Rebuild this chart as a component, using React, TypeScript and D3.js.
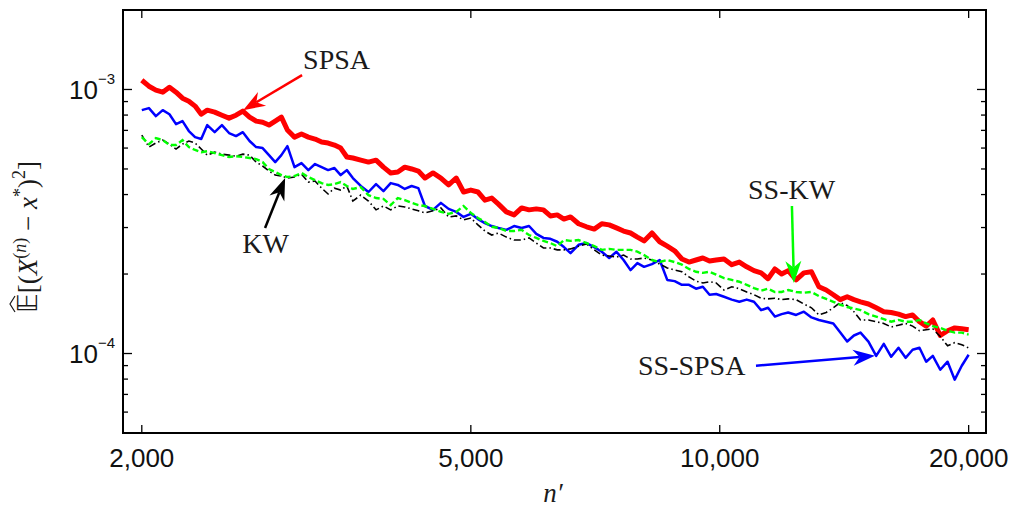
import React from 'react'
import * as d3 from 'd3'

// values are stored in units of 1e-4
const UNIT = 1e-4

const nValues = [
  2000, 2040, 2080, 2120, 2160, 2200, 2240, 2280, 2320, 2360, 2400,
  2450, 2500, 2550, 2600, 2650, 2700, 2750, 2800, 2850, 2900, 2950, 3000,
  3060, 3120, 3180, 3240, 3300, 3360, 3420, 3480, 3540, 3600,
  3680, 3760, 3840, 3920, 4000, 4080, 4160, 4240, 4320, 4400,
  4500, 4600, 4700, 4800, 4900, 5000, 5100, 5200, 5300, 5400,
  5520, 5640, 5760, 5880, 6000, 6120, 6240, 6360, 6480, 6600,
  6750, 6900, 7050, 7200, 7350, 7500, 7650, 7800, 7950, 8100,
  8280, 8460, 8640, 8820, 9000, 9180, 9360, 9540, 9720, 9900,
  10120, 10340, 10560, 10780, 11000, 11220, 11440, 11660, 11880, 12100,
  12370, 12640, 12910, 13180, 13450, 13720, 13990, 14260, 14530, 14800,
  15130, 15460, 15790, 16120, 16450, 16780, 17110, 17440, 17770, 18100,
  18480, 18860, 19240, 19620, 20000
]

const spsa = [
  10.84, 10.29, 9.94, 9.77, 10.2, 9.77, 9.27, 9.03, 8.65, 8.06,
  8.35, 8.21, 7.99, 7.79, 7.99, 8.28, 7.86, 7.59, 7.52, 7.33,
  7.59, 7.86, 7.02, 6.6, 6.78, 6.6, 6.49, 6.32, 6.27, 6.16,
  6.0, 5.55, 5.5, 5.4, 5.31, 5.4, 5.08, 4.83, 4.87, 5.08,
  5.0, 4.91, 4.62, 4.83, 4.62, 4.35, 4.62, 4.09, 4.16, 4.09,
  3.81, 3.88, 3.68, 3.44, 3.35, 3.56, 3.5, 3.53, 3.5, 3.32,
  3.35, 3.23, 3.29, 3.1, 3.02, 2.96, 3.1, 3.07, 2.99, 2.91,
  2.86, 2.76, 2.67, 2.86, 2.65, 2.55, 2.45, 2.28, 2.22, 2.26,
  2.3, 2.24, 2.26, 2.28, 2.17, 2.22, 2.13, 2.06, 2.02, 1.92,
  2.09, 2.0, 2.06, 1.9, 2.02, 2.04, 1.79, 1.74, 1.67, 1.6,
  1.64, 1.6, 1.57, 1.54, 1.49, 1.44, 1.43, 1.41, 1.38, 1.4,
  1.32, 1.27, 1.34, 1.17, 1.22, 1.25, 1.24, 1.23
]

const ssSpsa = [
  8.35, 8.5, 7.93, 8.35, 8.06, 7.39, 7.59, 6.96, 6.6, 6.49,
  7.33, 6.89, 7.33, 6.84, 6.66, 6.89, 6.38, 6.05, 6.0, 5.64,
  5.31, 5.64, 6.1, 5.08, 5.26, 4.95, 5.22, 5.08, 4.95, 5.04,
  4.74, 4.95, 4.62, 4.31, 4.09, 4.38, 4.12, 4.42, 4.35, 4.2,
  4.31, 4.23, 3.62, 3.5, 3.72, 3.53, 3.44, 3.29, 3.38, 3.23,
  3.12, 3.04, 2.99, 2.94, 3.04, 2.99, 3.04, 2.84, 2.74, 2.72,
  2.65, 2.53, 2.4, 2.58, 2.62, 2.53, 2.43, 2.3, 2.43, 2.26,
  2.07, 2.2, 2.13, 2.18, 2.26, 1.9, 1.88, 1.82, 1.82, 1.76,
  1.79, 1.67, 1.68, 1.64, 1.6, 1.57, 1.6, 1.57, 1.46, 1.49,
  1.38, 1.41, 1.43, 1.4, 1.44, 1.37, 1.34, 1.32, 1.3, 1.2,
  1.11, 1.17, 1.2, 1.11, 0.98, 1.088, 0.972, 1.051, 0.963, 1.033,
  1.051, 0.931, 0.98, 0.868, 0.931, 0.796, 0.899, 0.989
]

const kw = [
  6.72, 6.05, 6.27, 6.43, 6.21, 5.95, 6.21, 6.38, 6.27, 5.95,
  5.64, 5.79, 5.69, 5.64, 5.59, 5.69, 5.64, 5.31, 5.13, 4.91,
  4.74, 4.7, 4.62, 4.66, 4.78, 4.46, 4.5, 4.23, 4.02, 4.23,
  4.16, 4.31, 3.78, 3.98, 3.78, 3.5, 3.62, 3.5, 3.62, 3.59,
  3.53, 3.47, 3.41, 3.47, 3.56, 3.29, 3.32, 3.21, 3.26, 3.07,
  2.91, 2.81, 2.86, 2.76, 2.69, 2.69, 2.74, 2.62, 2.51, 2.51,
  2.47, 2.47, 2.49, 2.55, 2.6, 2.47, 2.36, 2.34, 2.32, 2.36,
  2.28, 2.28, 2.3, 2.26, 2.18, 2.11, 2.07, 2.04, 1.95, 1.88,
  1.85, 1.87, 1.85, 1.74, 1.79, 1.76, 1.71, 1.67, 1.62, 1.61,
  1.62, 1.6, 1.61, 1.6, 1.54, 1.49, 1.4, 1.43, 1.49, 1.56,
  1.52, 1.44, 1.34, 1.34, 1.32, 1.3, 1.26, 1.28, 1.3, 1.27,
  1.22, 1.23, 1.24, 1.16, 1.07, 1.1, 1.08, 1.05
]

const ssKw = [
  6.6, 6.21, 6.54, 6.43, 6.16, 6.16, 6.43, 6.05, 5.9, 5.79,
  5.84, 5.74, 5.64, 5.55, 5.59, 5.55, 5.5, 5.45, 5.31, 5.0,
  4.87, 4.74, 4.66, 4.7, 4.83, 4.66, 4.54, 4.42, 4.35, 4.38,
  4.46, 4.31, 4.2, 4.27, 3.98, 3.88, 3.85, 3.65, 3.88, 3.81,
  3.72, 3.65, 3.62, 3.53, 3.44, 3.38, 3.44, 3.62, 3.41, 3.26,
  3.15, 3.02, 2.99, 2.91, 2.91, 2.94, 2.81, 2.74, 2.67, 2.62,
  2.55, 2.69, 2.67, 2.69, 2.62, 2.55, 2.47, 2.49, 2.47, 2.47,
  2.47, 2.43, 2.36, 2.26, 2.22, 2.26, 2.22, 2.17, 2.09, 2.04,
  2.02, 2.04, 1.99, 1.93, 1.9, 1.87, 1.82, 1.77, 1.73, 1.76,
  1.71, 1.71, 1.74, 1.71, 1.7, 1.71, 1.65, 1.61, 1.57, 1.53,
  1.5, 1.48, 1.46, 1.41, 1.38, 1.35, 1.32, 1.34, 1.32, 1.32,
  1.34, 1.3, 1.27, 1.25, 1.22, 1.2, 1.2, 1.18
]

const xTicks = [2000, 5000, 10000, 20000]
const xTickLabels = ['2,000', '5,000', '10,000', '20,000']
const yMajor = [1e-4, 1e-3]
const yMajorExp = ['−4', '−3']
const yMinor = [6e-5, 7e-5, 8e-5, 9e-5, 2e-4, 3e-4, 4e-4, 5e-4, 6e-4, 7e-4, 8e-4, 9e-4]

// annotation anchors in data coordinates: [n, value in 1e-4]
const annotations = [
  {label: 'SPSA', color: '#ff0000', text: [3134, 11.93], from: [3125, 11.33], to: [2652, 8.35]},
  {label: 'KW', color: '#000000', text: [2645, 2.4], from: [2819, 2.99], to: [2981, 4.62]},
  {label: 'SS-KW', color: '#00ff00', text: [10819, 3.85], from: [12226, 3.62], to: [12295, 1.851]},
  {label: 'SS-SPSA', color: '#0000ff', text: [7964, 0.831], from: [11062, 0.8985], to: [15407, 0.98]}
]

const W = 1010
const H = 510
const margin = {top: 10, right: 24, bottom: 77, left: 123}

export default function App() {
  const x = d3.scaleLog().domain([1898, 20990]).range([margin.left, W - margin.right])
  const y = d3.scaleLog().domain([5e-5, 2e-3]).range([H - margin.bottom, margin.top])
  const x0 = margin.left
  const x1 = W - margin.right
  const y0 = H - margin.bottom
  const y1 = margin.top

  const line = d3
    .line<number>()
    .x((_, i) => x(nValues[i]))
    .y(d => y(d * UNIT))

  const serif = "'Liberation Serif', 'Times New Roman', serif"
  const sans = "'Liberation Sans', Arial, Helvetica, sans-serif"

  function arrow(a, key) {
    const tx = x(a.from[0])
    const ty = y(a.from[1] * UNIT)
    const hx = x(a.to[0])
    const hy = y(a.to[1] * UNIT)
    const ang = Math.atan2(hy - ty, hx - tx)
    const L = 22
    const hw = 8
    const c = Math.cos(ang)
    const s = Math.sin(ang)
    const pt = (u, v) => [hx + u * c - v * s, hy + u * s + v * c]
    const b1 = pt(-L, hw)
    const b2 = pt(-L, -hw)
    const nt = pt(-L * 0.7, 0)
    return (
      <g key={key}>
        <line x1={tx} y1={ty} x2={nt[0]} y2={nt[1]} stroke={a.color} strokeWidth={2.5} />
        <path
          d={`M${hx},${hy}L${b1[0]},${b1[1]}L${nt[0]},${nt[1]}L${b2[0]},${b2[1]}Z`}
          fill={a.color}
        />
        <text
          x={x(a.text[0])}
          y={y(a.text[1] * UNIT)}
          fontFamily={serif}
          fontSize={28}
          fill="#1a1a1a">
          {a.label}
        </text>
      </g>
    )
  }

  return (
    <svg
      width={W}
      height={H}
      style={{position: 'absolute', left: 0, top: 0, background: '#fff'}}>
      <rect x={0} y={0} width={W} height={H} fill="#fff" />

      <path d={line(spsa)} fill="none" stroke="#ff0000" strokeWidth={5} strokeLinejoin="round" />
      <path d={line(ssSpsa)} fill="none" stroke="#0000ff" strokeWidth={2.5} strokeLinejoin="round" />
      <path
        d={line(kw)}
        fill="none"
        stroke="#000"
        strokeWidth={1.6}
        strokeDasharray="7,3,1.5,3"
      />
      <path
        d={line(ssKw)}
        fill="none"
        stroke="#00ff00"
        strokeWidth={2.4}
        strokeDasharray="6,3"
      />

      {/* frame */}
      <rect x={x0} y={y1} width={x1 - x0} height={y0 - y1} fill="none" stroke="#000" strokeWidth={2} />

      {/* x ticks */}
      {xTicks.map((t, i) => (
        <g key={'xt' + t}>
          <line x1={x(t)} x2={x(t)} y1={y0} y2={y0 - 8} stroke="#000" strokeWidth={1.3} />
          <line x1={x(t)} x2={x(t)} y1={y1} y2={y1 + 8} stroke="#000" strokeWidth={1.3} />
          <text x={x(t)} y={y0 + 34} textAnchor="middle" fontFamily={sans} fontSize={26} fill="#111">
            {xTickLabels[i]}
          </text>
        </g>
      ))}

      {/* y ticks */}
      {yMajor.map((t, i) => (
        <g key={'ym' + t}>
          <line x1={x0} x2={x0 + 9} y1={y(t)} y2={y(t)} stroke="#000" strokeWidth={1.3} />
          <line x1={x1} x2={x1 - 9} y1={y(t)} y2={y(t)} stroke="#000" strokeWidth={1.3} />
          <text x={115} y={y(t) + 9.7} textAnchor="end" fontFamily={sans} fontSize={26} fill="#111">
            <tspan>10</tspan>
            <tspan dy={-15.5} fontSize={15}>
              {yMajorExp[i]}
            </tspan>
          </text>
        </g>
      ))}
      {yMinor.map(t => (
        <g key={'yn' + t}>
          <line x1={x0} x2={x0 + 5} y1={y(t)} y2={y(t)} stroke="#000" strokeWidth={1.3} />
          <line x1={x1} x2={x1 - 5} y1={y(t)} y2={y(t)} stroke="#000" strokeWidth={1.3} />
        </g>
      ))}

      {/* axis labels */}
      <text x={553} y={502} textAnchor="middle" fontFamily={serif} fontSize={27} fontStyle="italic" fill="#1a1a1a">
        n′
      </text>
      <g transform="translate(37,313) rotate(-90)">
        <text x={0} y={0} fontFamily={serif} fontSize={27} fill="#1a1a1a">
          <tspan fontFamily="'DejaVu Sans'">𝔼</tspan>
          <tspan>[(</tspan>
          <tspan fontStyle="italic">X</tspan>
          <tspan fontSize={18} dy={-11}>(</tspan>
          <tspan fontSize={18} fontStyle="italic">n</tspan>
          <tspan fontSize={18}>)</tspan>
          <tspan dy={11}> − </tspan>
          <tspan fontStyle="italic">x</tspan>
          <tspan fontSize={18} dy={-11}>*</tspan>
          <tspan dy={11}>)</tspan>
          <tspan fontSize={18} dy={-12}>2</tspan>
          <tspan dy={12}>]</tspan>
        </text>
        <path d="M1,-22 L9,-27 L17,-22" fill="none" stroke="#1a1a1a" strokeWidth={1.2} />
      </g>

      {annotations.map((a, i) => arrow(a, 'a' + i))}
    </svg>
  )
}
